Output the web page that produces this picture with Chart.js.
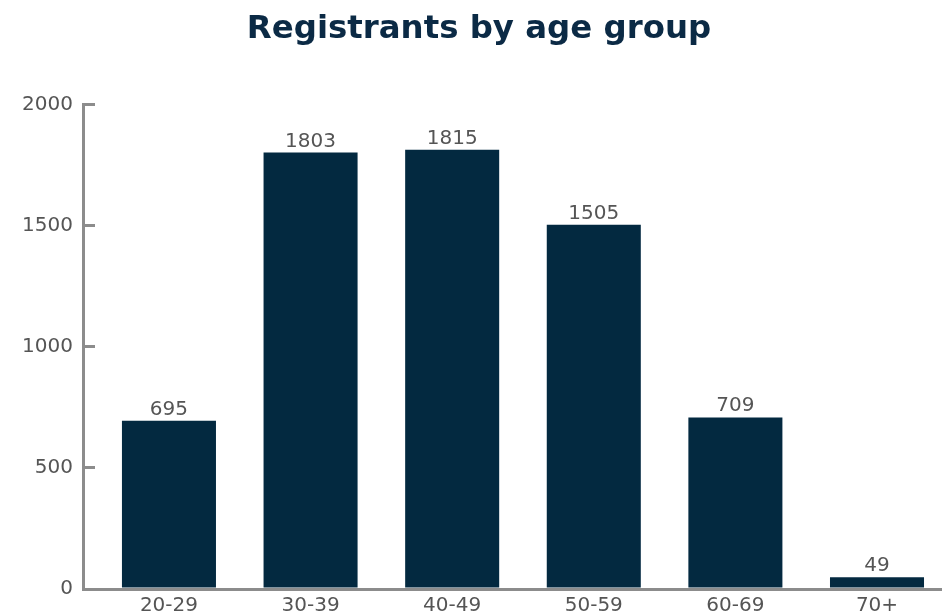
<!DOCTYPE html>
<html>
<head>
<meta charset="utf-8">
<script src="https://cdn.jsdelivr.net/npm/chart.js@4"></script>
<style>
  html, body { margin: 0; padding: 0; background: #fff; overflow: hidden; }
  #wrap { position: relative; width: 942px; height: 614px; }
</style>
</head>
<body>
<div id="wrap"><canvas id="ageChart"></canvas></div>
<script>
// data
var categories = ["20-29", "30-39", "40-49", "50-59", "60-69", "70+"];
var registrants = [695, 1803, 1815, 1505, 709, 49];
var yTicks = [0, 500, 1000, 1500, 2000];

var navy = "#032940";
var grey = "#555555";
var axisGrey = "#8c8c8c";
var fontFam = "'DejaVu Sans'";

// value labels above each bar
var valueLabels = {
    id: "valueLabels",
    afterDatasetsDraw: function (chart) {
        var ctx = chart.ctx;
        var meta = chart.getDatasetMeta(0);
        ctx.save();
        ctx.font = "20px " + fontFam;
        ctx.fillStyle = grey;
        ctx.textAlign = "center";
        ctx.textBaseline = "alphabetic";
        meta.data.forEach(function (bar, i) {
            ctx.fillText(registrants[i], bar.x, bar.y - 6);
        });
        ctx.restore();
    }
};

var points = registrants.map(function (v, i) { return { x: i, y: v }; });

new Chart(document.getElementById("ageChart").getContext("2d"), {
    type: "bar",
    data: {
        datasets: [{
            label: "Registrants",
            data: points,
            backgroundColor: navy,
            borderWidth: 0,
            barPercentage: 0.83,
            categoryPercentage: 0.8
        }]
    },
    options: {
        responsive: true,
        maintainAspectRatio: false,
        animation: false,
        layout: { autoPadding: false, padding: { left: 16, right: 0, top: 0, bottom: 0 } },
        plugins: {
            legend: { display: false },
            tooltip: { enabled: false },
            title: {
                display: true,
                text: "Registrants by age group",
                color: "#0b2a45",
                font: { family: fontFam, size: 32.4, weight: "bold" },
                padding: { top: 10, bottom: 56 }
            }
        },
        scales: {
            x: {
                type: "linear",
                offset: false,
                min: -0.607,
                max: 5.459,
                afterBuildTicks: function (s) {
                    s.ticks = categories.map(function (c, i) { return { value: i }; });
                },
                afterFit: function (s) { s.height = 25; },
                grid: { display: true, drawOnChartArea: false, drawTicks: false },
                border: { display: true, color: axisGrey, width: 3 },
                ticks: {
                    padding: 5,
                    color: grey,
                    font: { family: fontFam, size: 20 },
                    callback: function (v) { return categories[v]; }
                }
            },
            y: {
                min: 0,
                max: 2000,
                afterBuildTicks: function (s) {
                    s.ticks = yTicks.map(function (v) { return { value: v }; });
                },
                afterFit: function (s) {
                    s.width = 67;
                    // don't let the label padding shrink the plot
                    s.paddingTop = 0;
                    s.paddingBottom = 0;
                },
                grid: { drawOnChartArea: false, drawTicks: true, tickLength: -12, color: axisGrey, lineWidth: 3 },
                border: { display: true, color: axisGrey, width: 3 },
                ticks: {
                    padding: 22,
                    color: grey,
                    font: { family: fontFam, size: 20 },
                    callback: function (v) { return String(v); }
                }
            }
        }
    },
    plugins: [valueLabels]
});
</script>
</body>
</html>
